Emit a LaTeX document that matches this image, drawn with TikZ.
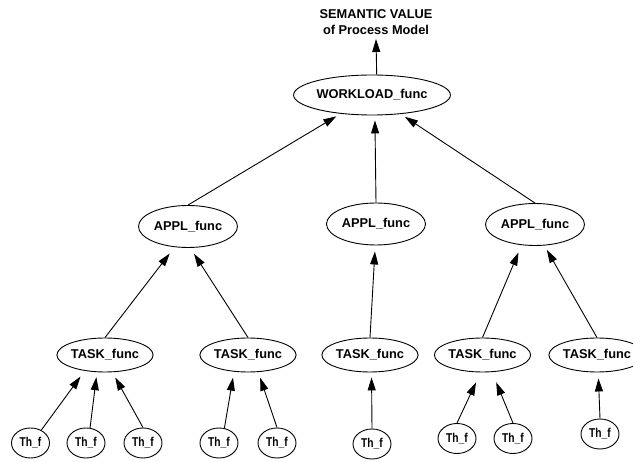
\documentclass[tikz,border=0pt]{standalone}
\usepackage{graphicx}
\usepackage{fontspec}
\setmainfont{Liberation Sans}
\usetikzlibrary{arrows.meta,shapes.geometric}
\begin{document}
\begin{tikzpicture}[x=1pt,y=-1pt,
  lbl/.style={font=\fontsize{12.8}{16}\selectfont\bfseries},
  fnode/.style={draw, ellipse, line width=0.9pt, inner sep=0pt, lbl},
  wlnode/.style={fnode, minimum width=132pt, minimum height=40pt},
  applnode/.style={fnode, minimum width=99pt, minimum height=42pt},
  tasknode/.style={fnode, minimum width=87pt, minimum height=34pt},
  thnode/.style={fnode, minimum width=38pt, minimum height=30pt},
  arr/.style={line width=0.9pt, -{Triangle[length=13pt,width=8pt]}},
]
\useasboundingbox (0,0) rectangle (633,462);

% top of the hierarchy
\node[lbl, align=center, inner sep=0pt] (sv) at (376,22) {SEMANTIC VALUE\\of Process Model};
\coordinate (svtip) at (376,39);
\node[wlnode] (wl) at (372,95) {WORKLOAD\_func};

% application level
\node[applnode] (ap1) at (188,226.5) {APPL\_func};
\node[applnode] (ap2) at (376,224) {APPL\_func};
\node[applnode] (ap3) at (535,224.5) {APPL\_func};

% task level
\node[tasknode] (t1) at (105,355) {TASK\_func};
\node[tasknode] (t2) at (248,355) {TASK\_func};
\node[tasknode] (t3) at (370,355) {TASK\_func};
\node[tasknode] (t4) at (482.5,355) {TASK\_func};
\node[tasknode] (t5) at (597,355) {TASK\_func};

% thread level
\newcommand{\thlabel}{\scalebox{0.8}[1]{Th\_f}}
\node[thnode] (h1) at (30.5,443) {\thlabel};
\node[thnode] (h2) at (86,443) {\thlabel};
\node[thnode] (h3) at (143,443) {\thlabel};
\node[thnode] (h4) at (219,443) {\thlabel};
\node[thnode] (h5) at (277,443) {\thlabel};
\node[thnode] (h6) at (372,444) {\thlabel};
\node[thnode] (h7) at (457,438.5) {\thlabel};
\node[thnode] (h8) at (513,438.5) {\thlabel};
\node[thnode] (h9) at (600,434) {\thlabel};

% workload to semantic value
\draw[arr] (wl.77) -- (svtip);

% applications to workload
\draw[arr, shorten >=5pt] (ap1.north) -- (wl);
\draw[arr, shorten >=5pt] (ap2.north) -- (wl.278);
\draw[arr, shorten >=5pt] (ap3.north) -- (wl);

% tasks to applications
\draw[arr, shorten >=8pt] (t1.north) -- (ap1.237);
\draw[arr, shorten >=7pt] (t2.north) -- (ap1.276);
\draw[arr, shorten >=6pt] (t3.north) -- (ap2.268);
\draw[arr, shorten >=8pt] (t4.north) -- (ap3.237);
\draw[arr, shorten >=5pt] (t5.north) -- (ap3.294);

% threads to tasks
\draw[arr, shorten >=7pt] (h1.50) -- (t1.218);
\draw[arr, shorten >=5pt] (h2.75) -- (t1.245);
\draw[arr, shorten >=6pt] (h3.north) -- (t1.293);
\draw[arr, shorten >=6pt] (h4.70) -- (t2.230);
\draw[arr, shorten >=6pt] (h5.north) -- (t2.301);
\draw[arr, shorten >=5pt] (h6.north) -- (t3.275);
\draw[arr, shorten >=11pt] (h7.north) -- (t4.264);
\draw[arr, shorten >=11pt] (h8.north) -- (t4.299);
\draw[arr, shorten >=6pt] (h9.north) -- (t5.274);
\end{tikzpicture}
\end{document}
